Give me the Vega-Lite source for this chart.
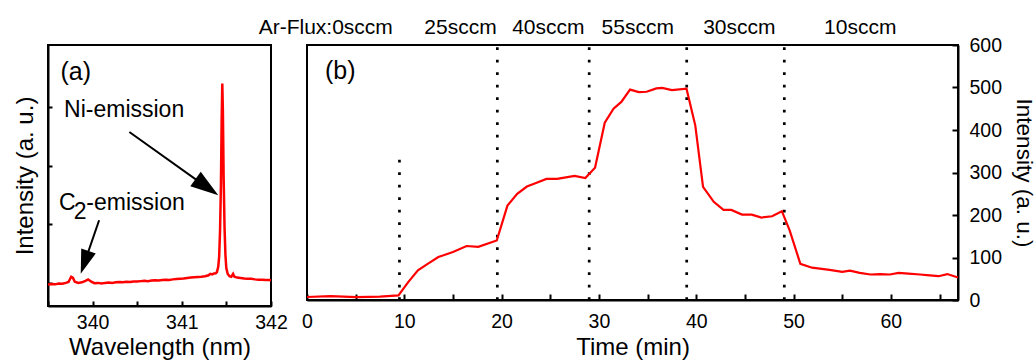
{
  "$schema": "https://vega.github.io/schema/vega-lite/v6.json",
  "padding": {"left": 12, "top": 15, "right": 0, "bottom": 0},
  "spacing": 36,
  "bounds": "flush",
  "config": {
    "font": "Liberation Sans",
    "view": {"stroke": "black", "strokeWidth": 2},
    "axis": {
      "domainColor": "black", "domainWidth": 2, "tickColor": "black", "tickWidth": 2,
      "labelColor": "black", "titleColor": "black", "labelFontSize": 19.5, "titleFontSize": 24,
      "titleFontWeight": "normal", "grid": false, "labelFont": "Liberation Sans", "titleFont": "Liberation Sans",
      "labelFlush": false, "labelOverlap": false
    }
  },
  "datasets": {
    "spectrum": [
      {"wl": 339.50, "val": 0.93}, {"wl": 339.54, "val": 0.95}, {"wl": 339.58, "val": 0.94}, {"wl": 339.62, "val": 0.97},
      {"wl": 339.66, "val": 0.96}, {"wl": 339.70, "val": 0.99}, {"wl": 339.73, "val": 1.02}, {"wl": 339.76, "val": 1.20},
      {"wl": 339.78, "val": 1.16}, {"wl": 339.80, "val": 1.03}, {"wl": 339.84, "val": 0.99}, {"wl": 339.88, "val": 1.01},
      {"wl": 339.92, "val": 1.06}, {"wl": 339.95, "val": 1.11}, {"wl": 339.98, "val": 1.04}, {"wl": 340.02, "val": 0.98},
      {"wl": 340.06, "val": 0.99}, {"wl": 340.10, "val": 0.97}, {"wl": 340.14, "val": 0.99}, {"wl": 340.18, "val": 1.00},
      {"wl": 340.22, "val": 0.99}, {"wl": 340.26, "val": 1.01}, {"wl": 340.30, "val": 1.02}, {"wl": 340.34, "val": 1.01},
      {"wl": 340.38, "val": 1.03}, {"wl": 340.42, "val": 1.02}, {"wl": 340.46, "val": 1.04}, {"wl": 340.50, "val": 1.04},
      {"wl": 340.54, "val": 1.05}, {"wl": 340.58, "val": 1.06}, {"wl": 340.62, "val": 1.05}, {"wl": 340.66, "val": 1.07},
      {"wl": 340.70, "val": 1.08}, {"wl": 340.74, "val": 1.07}, {"wl": 340.78, "val": 1.09}, {"wl": 340.82, "val": 1.10},
      {"wl": 340.86, "val": 1.09}, {"wl": 340.90, "val": 1.11}, {"wl": 340.94, "val": 1.12}, {"wl": 340.98, "val": 1.13},
      {"wl": 341.02, "val": 1.14}, {"wl": 341.06, "val": 1.16}, {"wl": 341.10, "val": 1.17}, {"wl": 341.14, "val": 1.18},
      {"wl": 341.18, "val": 1.19}, {"wl": 341.22, "val": 1.20}, {"wl": 341.26, "val": 1.22}, {"wl": 341.30, "val": 1.25},
      {"wl": 341.32, "val": 1.30}, {"wl": 341.34, "val": 1.28}, {"wl": 341.36, "val": 1.31}, {"wl": 341.38, "val": 1.32},
      {"wl": 341.394, "val": 1.36}, {"wl": 341.409, "val": 1.55}, {"wl": 341.419, "val": 1.9}, {"wl": 341.429, "val": 2.8},
      {"wl": 341.439, "val": 4.4}, {"wl": 341.447, "val": 6.6}, {"wl": 341.454, "val": 7.80}, {"wl": 341.461, "val": 6.8},
      {"wl": 341.469, "val": 4.6}, {"wl": 341.479, "val": 2.9}, {"wl": 341.489, "val": 1.95}, {"wl": 341.499, "val": 1.5},
      {"wl": 341.514, "val": 1.3}, {"wl": 341.534, "val": 1.22}, {"wl": 341.555, "val": 1.20}, {"wl": 341.575, "val": 1.30},
      {"wl": 341.59, "val": 1.20}, {"wl": 341.62, "val": 1.17}, {"wl": 341.66, "val": 1.16}, {"wl": 341.70, "val": 1.14},
      {"wl": 341.74, "val": 1.13}, {"wl": 341.78, "val": 1.13}, {"wl": 341.82, "val": 1.11}, {"wl": 341.86, "val": 1.10},
      {"wl": 341.90, "val": 1.10}, {"wl": 341.94, "val": 1.09}, {"wl": 341.98, "val": 1.09}, {"wl": 342.00, "val": 1.08}
    ],
    "arrows": [
      {"name": "Ni", "wl": 340.412, "val": 6.147, "wl2": 341.298, "val2": 4.222, "tipwl": 341.409, "tipval": 3.983},
      {"name": "C2", "wl": 340.073, "val": 3.129, "wl2": 339.903, "val2": 1.625, "tipwl": 339.867, "tipval": 1.304}
    ],
    "notesA": [
      {"label": "Ni-emission", "wl": 339.68, "val": 6.66},
      {"label": "C", "wl": 339.622, "val": 3.47},
      {"label": "2", "wl": 339.79, "val": 3.18},
      {"label": "-emission", "wl": 339.93, "val": 3.47}
    ],
    "panelA": [{"label": "(a)", "wl": 339.64, "val": 7.93}],
    "series": [
      {"t": 0, "I": 7}, {"t": 2.4, "I": 9}, {"t": 5.1, "I": 7}, {"t": 7.5, "I": 8}, {"t": 9.4, "I": 11},
      {"t": 10.4, "I": 42}, {"t": 11.4, "I": 70}, {"t": 12.4, "I": 85}, {"t": 13.5, "I": 101}, {"t": 15.0, "I": 113},
      {"t": 16.4, "I": 127}, {"t": 17.6, "I": 125}, {"t": 19.5, "I": 140}, {"t": 20.6, "I": 222}, {"t": 21.6, "I": 250},
      {"t": 22.6, "I": 267}, {"t": 23.6, "I": 276}, {"t": 24.6, "I": 285}, {"t": 25.7, "I": 285}, {"t": 27.5, "I": 292},
      {"t": 28.6, "I": 287}, {"t": 29.6, "I": 311}, {"t": 30.6, "I": 417}, {"t": 31.5, "I": 450}, {"t": 32.3, "I": 466},
      {"t": 33.2, "I": 495}, {"t": 34.1, "I": 489}, {"t": 34.9, "I": 490}, {"t": 35.9, "I": 498}, {"t": 36.5, "I": 499},
      {"t": 37.5, "I": 494}, {"t": 39.0, "I": 497}, {"t": 39.9, "I": 411}, {"t": 40.7, "I": 266}, {"t": 41.8, "I": 231},
      {"t": 42.8, "I": 212}, {"t": 43.6, "I": 212}, {"t": 44.7, "I": 201}, {"t": 45.7, "I": 201}, {"t": 46.7, "I": 194},
      {"t": 47.8, "I": 197}, {"t": 48.8, "I": 209}, {"t": 49.6, "I": 164}, {"t": 50.7, "I": 85}, {"t": 51.9, "I": 76},
      {"t": 52.7, "I": 74}, {"t": 53.7, "I": 71}, {"t": 55.0, "I": 66}, {"t": 55.8, "I": 69}, {"t": 56.8, "I": 64},
      {"t": 57.9, "I": 60}, {"t": 58.9, "I": 61}, {"t": 59.9, "I": 60}, {"t": 60.8, "I": 64}, {"t": 61.8, "I": 62},
      {"t": 63.0, "I": 60}, {"t": 64.0, "I": 58}, {"t": 64.9, "I": 56}, {"t": 65.8, "I": 61}, {"t": 66.9, "I": 53}
    ],
    "switches": [
      {"t": 9.5, "lo": 0, "hi": 332},
      {"t": 19.56, "lo": 0, "hi": 600},
      {"t": 29.0, "lo": 0, "hi": 600},
      {"t": 39.02, "lo": 0, "hi": 600},
      {"t": 49.05, "lo": 0, "hi": 600}
    ],
    "flux": [
      {"label": "Ar-Flux:0sccm", "t": 1.93, "I": 626.6},
      {"label": "25sccm", "t": 15.77, "I": 626.6},
      {"label": "40sccm", "t": 24.8, "I": 626.6},
      {"label": "55sccm", "t": 33.99, "I": 626.6},
      {"label": "30sccm", "t": 44.43, "I": 626.6},
      {"label": "10sccm", "t": 56.85, "I": 626.6}
    ],
    "panelB": [{"label": "(b)", "t": 1.85, "I": 520}]
  },
  "hconcat": [
    {
      "width": 223,
      "height": 261,
      "layer": [
        {
          "data": {"name": "spectrum"},
          "mark": {"type": "line", "color": "#ff0000", "strokeWidth": 2.5, "clip": true},
          "encoding": {
            "x": {"field": "wl", "type": "quantitative",
              "scale": {"domain": [339.5, 342], "nice": false, "zero": false},
              "axis": {"title": "Wavelength (nm)", "values": [339.5, 340, 340.5, 341, 341.5, 342],
                "labelExpr": "datum.value % 1 === 0 ? format(datum.value, 'd') : ''",
                "tickSize": -5, "labelPadding": 12.6, "titlePadding": 3, "titleFontSize": 24}},
            "y": {"field": "val", "type": "quantitative",
              "scale": {"domain": [0.2, 9.12], "nice": false, "zero": false},
              "axis": {"title": "Intensity (a. u.)", "values": [1, 2, 3, 4, 5, 6, 7, 8], "labels": false,
                "tickSize": -4, "titlePadding": 10}}
          }
        },
        {
          "data": {"name": "arrows"},
          "mark": {"type": "rule", "color": "black", "strokeWidth": 2},
          "encoding": {
            "x": {"field": "wl", "type": "quantitative"},
            "y": {"field": "val", "type": "quantitative"},
            "x2": {"field": "wl2"},
            "y2": {"field": "val2"}
          }
        },
        {
          "data": {"name": "arrows"},
          "transform": [{"filter": "datum.name === 'Ni'"}],
          "mark": {"type": "point", "shape": "M0,0L0.64,2L-0.64,2Z", "filled": true, "color": "black", "opacity": 1, "strokeWidth": 0, "size": 784, "angle": 125.6},
          "encoding": {
            "x": {"field": "tipwl", "type": "quantitative"},
            "y": {"field": "tipval", "type": "quantitative"}
          }
        },
        {
          "data": {"name": "arrows"},
          "transform": [{"filter": "datum.name === 'C2'"}],
          "mark": {"type": "point", "shape": "M0,0L0.64,2L-0.64,2Z", "filled": true, "color": "black", "opacity": 1, "strokeWidth": 0, "size": 576, "angle": 198.9},
          "encoding": {
            "x": {"field": "tipwl", "type": "quantitative"},
            "y": {"field": "tipval", "type": "quantitative"}
          }
        },
        {
          "data": {"name": "notesA"},
          "mark": {"type": "text", "align": "left", "baseline": "alphabetic", "fontSize": 23, "color": "black"},
          "encoding": {
            "x": {"field": "wl", "type": "quantitative"},
            "y": {"field": "val", "type": "quantitative"},
            "text": {"field": "label"}
          }
        },
        {
          "data": {"name": "panelA"},
          "mark": {"type": "text", "align": "left", "baseline": "alphabetic", "fontSize": 25, "color": "black"},
          "encoding": {
            "x": {"field": "wl", "type": "quantitative"},
            "y": {"field": "val", "type": "quantitative"},
            "text": {"field": "label"}
          }
        }
      ]
    },
    {
      "width": 651,
      "height": 255,
      "layer": [
        {
          "data": {"name": "switches"},
          "mark": {"type": "rule", "color": "black", "strokeWidth": 2.7, "strokeDash": [2.7, 9.8]},
          "encoding": {
            "x": {"field": "t", "type": "quantitative",
              "scale": {"domain": [0, 66.9], "nice": false, "zero": false},
              "axis": {"title": "Time (min)", "values": [0, 5, 10, 15, 20, 25, 30, 35, 40, 45, 50, 55, 60, 65],
                "labelExpr": "datum.value % 10 === 0 ? datum.label : ''",
                "tickSize": -6, "labelPadding": 18.3, "titlePadding": 5}},
            "y": {"field": "lo", "type": "quantitative",
              "scale": {"domain": [0, 600], "nice": false, "zero": false},
              "axis": {"orient": "right", "title": "Intensity (a. u.)",
                "values": [0, 50, 100, 150, 200, 250, 300, 350, 400, 450, 500, 550, 600],
                "labelExpr": "datum.value % 100 === 0 ? datum.label : ''",
                "tickSize": -6, "labelPadding": 17, "titlePadding": 10, "titleFontSize": 22.5}},
            "y2": {"field": "hi"}
          }
        },
        {
          "data": {"name": "series"},
          "mark": {"type": "line", "color": "#ff0000", "strokeWidth": 2.2},
          "encoding": {
            "x": {"field": "t", "type": "quantitative"},
            "y": {"field": "I", "type": "quantitative"}
          }
        },
        {
          "data": {"name": "flux"},
          "mark": {"type": "text", "align": "center", "baseline": "alphabetic", "fontSize": 21, "color": "black"},
          "encoding": {
            "x": {"field": "t", "type": "quantitative"},
            "y": {"field": "I", "type": "quantitative"},
            "text": {"field": "label"}
          }
        },
        {
          "data": {"name": "panelB"},
          "mark": {"type": "text", "align": "left", "baseline": "alphabetic", "fontSize": 25, "color": "black"},
          "encoding": {
            "x": {"field": "t", "type": "quantitative"},
            "y": {"field": "I", "type": "quantitative"},
            "text": {"field": "label"}
          }
        }
      ]
    }
  ]
}
